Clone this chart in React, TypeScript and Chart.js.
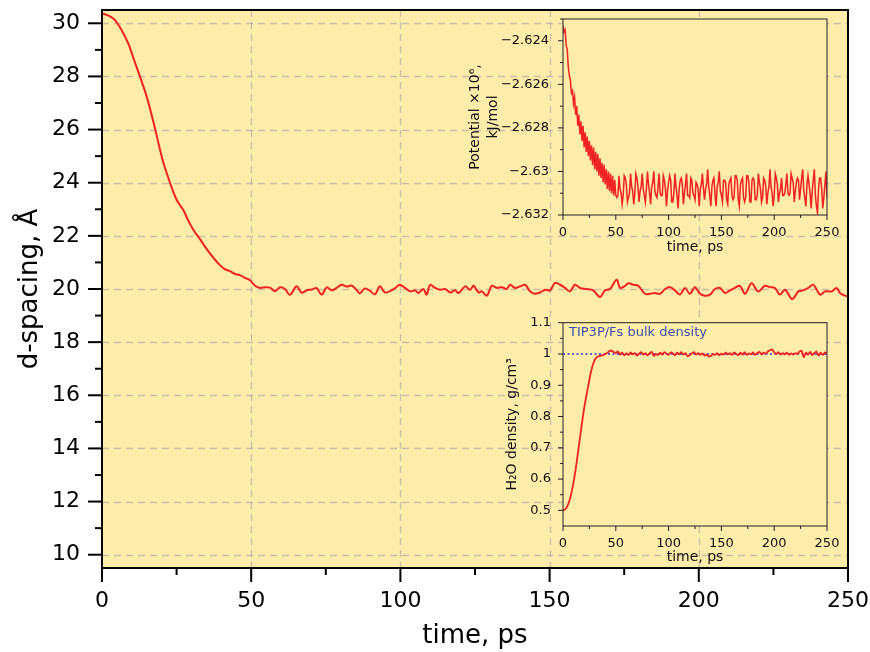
import React, { useEffect, useRef } from 'react';
import { Chart, registerables } from 'chart.js';

Chart.register(...registerables);

// ---------------- DATA ----------------
const dTime = [0, 2, 3.8, 5, 6.6, 8.8, 10.5, 12.7, 15, 17.2, 19, 20.5, 22.8, 25, 27.2, 28.8, 30.6, 33, 35.1, 37.5,
  39.5, 41, 42.9, 44.5, 46.2, 47.9, 49.6, 51.3, 53, 54.6, 56.3, 58, 59.6, 61.3, 63, 65.2, 66.9, 68.6, 70.3, 71.9,
  73.6, 75.3, 77, 78.6, 80.3, 82, 83.6, 85.3, 86.4, 88.1, 89.8, 91.5, 93.1, 94.8, 96.5, 98.2, 99.8, 101.5, 103.3, 104.9,
  106, 107.7, 108.8, 110, 111.6, 113.3, 115, 116.7, 118.3, 119.5, 121.7, 123.4, 124.5, 126.2, 127.3, 129, 130.6, 132.3, 134, 135.6,
  136.8, 138.4, 140.1, 141.8, 143.5, 145.1, 146.8, 148.5, 150.2, 151.8, 153.5, 155.2, 156.8, 158.5, 160.2, 162.4, 164.6, 166.9, 168.6, 170.2,
  172.5, 173.6, 175.3, 176.4, 178.1, 179.7, 182, 183.7, 185.3, 187, 188.7, 190.4, 192, 193.7, 195.4, 197, 198.7, 200.4, 202, 203.8,
  205.4, 207.1, 208.8, 210.5, 212.1, 213.8, 215.5, 217.7, 219.9, 222.2, 223.8, 225.5, 227.2, 228.9, 231.3, 233.4, 235, 236.7, 238.4, 240.6,
  242.3, 244.5, 246.2, 247.3, 249, 250];
const dSpacing = [30.37, 30.3, 30.18, 30.02, 29.74, 29.24, 28.7, 28.0, 27.23, 26.3, 25.45, 24.78, 24.0, 23.36, 22.98, 22.6, 22.23, 21.85, 21.5, 21.15,
  20.9, 20.76, 20.67, 20.57, 20.52, 20.42, 20.33, 20.12, 20.04, 20.07, 20.05, 19.92, 20.06, 20.0, 19.78, 20.1, 19.86, 19.95, 19.98, 20.03,
  19.79, 20.06, 19.95, 20.04, 20.16, 20.09, 20.13, 19.97, 19.84, 20.02, 19.93, 19.8, 20.1, 19.87, 19.92, 20.03, 20.16, 20.04, 19.91, 19.95,
  19.85, 20.0, 19.79, 20.16, 20.04, 19.97, 20.0, 19.87, 19.95, 19.85, 20.1, 19.97, 20.12, 19.87, 19.91, 19.75, 20.12, 20.04, 20.07, 20.0,
  20.16, 20.04, 20.1, 20.16, 19.91, 19.82, 19.87, 19.97, 19.95, 20.23, 20.16, 20.04, 19.91, 20.16, 20.04, 20.0, 19.95, 19.7, 19.95, 20.0,
  20.35, 20.04, 20.12, 20.22, 20.16, 20.12, 19.82, 19.82, 19.85, 19.82, 20.0, 20.07, 19.95, 19.79, 20.04, 19.82, 20.07, 19.82, 19.75, 19.79,
  20.0, 20.04, 19.85, 19.95, 20.04, 20.12, 19.82, 20.22, 19.91, 20.12, 20.07, 20.04, 19.79, 19.97, 19.62, 19.91, 19.95, 20.04, 20.16, 19.79,
  19.91, 19.91, 20.04, 19.85, 19.75, 19.72];

const mainXTicks = [0, 50, 100, 150, 200, 250];
const mainXMinor = [25, 75, 125, 175, 225];
const mainYTicks = [10, 12, 14, 16, 18, 20, 22, 24, 26, 28, 30];
const mainYMinor = [11, 13, 15, 17, 19, 21, 23, 25, 27, 29];

// Potential (x10^6 kJ/mol), one sample per ps, t = 0..250
const POT_DT = 1;
const potential = [
  -2.6233, -2.6236, -2.6235, -2.6242, -2.6244, -2.6252, -2.6256, -2.6258, -2.6264, -2.6263,
  -2.6269, -2.6266, -2.6274, -2.6270, -2.6279, -2.6274, -2.6283, -2.6277, -2.6286, -2.6279,
  -2.6289, -2.6282, -2.6291, -2.6284, -2.6293, -2.6286, -2.6295, -2.6288, -2.6297, -2.6289,
  -2.6299, -2.6291, -2.6300, -2.6292, -2.6302, -2.6294, -2.6303, -2.6296, -2.6305, -2.6297,
  -2.6306, -2.6299, -2.6308, -2.6300, -2.6309, -2.6301, -2.6310, -2.6302, -2.6311, -2.6304,
  -2.6311,
  -2.6312, -2.6311, -2.6302, -2.6308, -2.6310, -2.6315, -2.6311, -2.6302, -2.6303, -2.6306,
  -2.6314, -2.6312, -2.6310, -2.6301, -2.6307, -2.6309, -2.6315, -2.6310, -2.6301, -2.6303,
  -2.6307, -2.6314, -2.6309, -2.6307, -2.6301, -2.6308, -2.6311, -2.6314, -2.6308, -2.6300,
  -2.6306, -2.6310, -2.6315, -2.6307, -2.6305, -2.6300, -2.6309, -2.6311, -2.6312, -2.6307,
  -2.6301, -2.6310, -2.6311, -2.6311, -2.6302, -2.6304, -2.6308, -2.6316, -2.6309, -2.6305,
  -2.6302, -2.6304, -2.6314, -2.6314, -2.6310, -2.6301, -2.6307, -2.6311, -2.6317, -2.6308,
  -2.6304, -2.6303, -2.6306, -2.6315, -2.6310, -2.6306, -2.6301, -2.6311, -2.6311, -2.6312,
  -2.6303, -2.6304, -2.6310, -2.6311, -2.6313, -2.6305, -2.6306, -2.6308, -2.6316, -2.6308,
  -2.6306, -2.6301, -2.6308, -2.6313, -2.6308, -2.6306, -2.6299, -2.6307, -2.6311, -2.6316,
  -2.6307, -2.6304, -2.6303, -2.6311, -2.6316, -2.6307, -2.6305, -2.6300, -2.6309, -2.6311,
  -2.6314, -2.6304, -2.6304, -2.6305, -2.6313, -2.6315, -2.6306, -2.6304, -2.6303, -2.6311,
  -2.6313, -2.6312, -2.6302, -2.6302, -2.6304, -2.6313, -2.6316, -2.6306, -2.6304, -2.6303,
  -2.6312, -2.6314, -2.6312, -2.6302, -2.6302, -2.6305, -2.6314, -2.6314, -2.6304, -2.6303,
  -2.6304, -2.6313, -2.6313, -2.6311, -2.6301, -2.6305, -2.6308, -2.6314, -2.6312, -2.6303,
  -2.6304, -2.6307, -2.6315, -2.6310, -2.6307, -2.6299, -2.6307, -2.6310, -2.6316, -2.6311,
  -2.6301, -2.6303, -2.6306, -2.6314, -2.6310, -2.6308, -2.6303, -2.6311, -2.6311, -2.6310,
  -2.6306, -2.6301, -2.6310, -2.6311, -2.6310, -2.6301, -2.6303, -2.6305, -2.6314, -2.6309,
  -2.6305, -2.6303, -2.6304, -2.6313, -2.6308, -2.6303, -2.6299, -2.6309, -2.6312, -2.6316,
  -2.6306, -2.6302, -2.6306, -2.6310, -2.6317, -2.6309, -2.6304, -2.6299, -2.6311, -2.6316,
  -2.6319, -2.6308, -2.6303, -2.6303, -2.6308, -2.6317, -2.6312, -2.6306, -2.6300, -2.6312,
];
const potYTicks = [-2.632, -2.63, -2.628, -2.626, -2.624];
const potYMinor = [-2.631, -2.629, -2.627, -2.625, -2.623];
const insetXTicks = [0, 50, 100, 150, 200, 250];
const insetXMinor = [25, 75, 125, 175, 225];

// H2O density (g/cm3), one sample per 2 ps, t = 0..250
const DENS_DT = 2;
const density = [
  0.500, 0.503, 0.513, 0.530, 0.556, 0.590, 0.632, 0.680, 0.730, 0.780,
  0.826, 0.864, 0.900, 0.935, 0.962, 0.980, 0.990, 0.993, 0.995, 0.996,
  1.000, 1.004, 1.009, 1.011, 1.006, 1.003, 1.008, 0.998, 1.004, 0.996,
  1.002, 0.997, 1.005, 0.999, 1.003, 0.995, 1.001, 1.006, 0.998, 1.003,
  0.996, 1.002, 1.007, 0.994, 1.000, 0.997, 1.004, 0.998, 1.006, 1.001,
  0.997, 1.005, 1.002, 0.996, 1.004, 0.999, 1.006, 0.998, 1.003, 0.993,
  0.996, 1.002, 1.006, 0.998, 1.003, 0.997, 1.002, 0.995, 0.999, 0.992,
  0.994, 1.000, 0.997, 1.003, 0.996, 1.001, 0.998, 1.004, 0.999, 1.003,
  0.997, 1.005, 1.000, 0.996, 1.004, 0.998, 1.006, 0.997, 1.002, 0.999,
  1.005, 0.997, 1.003, 1.007, 0.999, 1.004, 1.001, 1.008, 1.012, 1.015,
  1.005, 1.000, 1.006, 0.998, 1.003, 0.999, 1.004, 0.997, 1.002, 0.998,
  1.003, 1.000, 1.008, 1.010, 0.990, 1.004, 0.998, 1.007, 0.996, 1.003,
  1.008, 0.995, 1.004, 0.997, 1.005, 1.000,
];
const bulkDensity = 1.0;
const densYTicks = [0.5, 0.6, 0.7, 0.8, 0.9, 1.0, 1.1];
const densYMinor = [0.55, 0.65, 0.75, 0.85, 0.95, 1.05];

// ---------------- STYLE ----------------
const BG = '#FEECAA';
const RED = '#EE2222';
const FONT = "'DejaVu Sans', 'Liberation Sans', sans-serif";

type Deco = {
  xMajor: number[]; xMinor: number[]; yMajor: number[]; yMinor: number[];
  majorLen: number; minorLen: number; tickWidth: number;
  frameWidth: number; frameColor: string;
  gridX?: number[]; gridY?: number[];
  note?: { text: string; color: string; font: string; dx: number; dy: number };
};

function decoPlugin(d: Deco) {
  return {
    id: 'deco',
    beforeDraw(chart: any) {
      const { ctx, chartArea: a, scales } = chart;
      ctx.save();
      ctx.fillStyle = BG;
      ctx.fillRect(a.left, a.top, a.right - a.left, a.bottom - a.top);
      ctx.strokeStyle = 'rgba(150,150,160,0.5)';
      ctx.lineWidth = 1.3;
      ctx.setLineDash([7, 5]);
      (d.gridX || []).forEach((v) => {
        const x = Math.round(scales.x.getPixelForValue(v)) + 0.5;
        ctx.beginPath(); ctx.moveTo(x, a.top); ctx.lineTo(x, a.bottom); ctx.stroke();
      });
      (d.gridY || []).forEach((v) => {
        const y = Math.round(scales.y.getPixelForValue(v)) + 0.5;
        ctx.beginPath(); ctx.moveTo(a.left, y); ctx.lineTo(a.right, y); ctx.stroke();
      });
      ctx.restore();
    },
    afterDraw(chart: any) {
      const { ctx, chartArea: a, scales } = chart;
      ctx.save();
      ctx.strokeStyle = d.frameColor;
      ctx.lineWidth = d.tickWidth;
      const tick = (x1: number, y1: number, x2: number, y2: number) => {
        ctx.beginPath(); ctx.moveTo(x1, y1); ctx.lineTo(x2, y2); ctx.stroke();
      };
      d.xMajor.forEach((v) => { const x = scales.x.getPixelForValue(v); tick(x, a.bottom, x, a.bottom + d.majorLen); });
      d.xMinor.forEach((v) => { const x = scales.x.getPixelForValue(v); tick(x, a.bottom, x, a.bottom + d.minorLen); });
      d.yMajor.forEach((v) => { const y = scales.y.getPixelForValue(v); tick(a.left, y, a.left - d.majorLen, y); });
      d.yMinor.forEach((v) => {
        const y = scales.y.getPixelForValue(v);
        if (y >= a.top - 0.5 && y <= a.bottom + 0.5) tick(a.left, y, a.left - d.minorLen, y);
      });
      ctx.lineWidth = d.frameWidth;
      ctx.strokeRect(a.left, a.top, a.right - a.left, a.bottom - a.top);
      if (d.note) {
        ctx.fillStyle = d.note.color;
        ctx.font = d.note.font;
        ctx.textAlign = 'left';
        ctx.textBaseline = 'middle';
        ctx.fillText(d.note.text, a.left + d.note.dx, a.top + d.note.dy);
      }
      ctx.restore();
    },
  };
}

const zeroPad = (s: any) => { s.paddingLeft = 0; s.paddingRight = 0; s.paddingTop = 0; s.paddingBottom = 0; };
const setTicks = (vals: number[]) => (s: any) => { s.ticks = vals.map((v) => ({ value: v })); };

function fmtPot(v: number) {
  return String(Number(v.toFixed(3))).replace('-', '\u2212');
}
function fmtDens(v: number) {
  return String(Number(v.toFixed(1)));
}

function MainChart() {
  const ref = useRef<HTMLCanvasElement>(null);
  useEffect(() => {
    const chart = new Chart(ref.current!, {
      type: 'line',
      data: {
        datasets: [{
          data: dTime.map((t, i) => ({ x: t, y: dSpacing[i] })),
          borderColor: RED, borderWidth: 2, pointRadius: 0, tension: 0.35, fill: false,
        }],
      },
      options: {
        animation: false, responsive: false, maintainAspectRatio: false,
        events: [],
        layout: { padding: { top: 10, right: 22, bottom: 0, left: 0 } },
        plugins: { legend: { display: false }, tooltip: { enabled: false } },
        scales: {
          x: {
            type: 'linear', min: 0, max: 250,
            afterBuildTicks: setTicks(mainXTicks),
            afterFit: (s: any) => { s.height = 84; zeroPad(s); },
            grid: { display: false, drawTicks: false },
            border: { display: false },
            ticks: { color: '#000', padding: 20, font: { family: FONT, size: 22 }, maxRotation: 0, callback: (v: any) => String(v) },
            title: { display: true, text: 'time, ps', color: '#000', font: { family: FONT, size: 26 }, padding: { top: 0, bottom: 0 } },
          },
          y: {
            type: 'linear', min: 9.5, max: 30.5,
            afterBuildTicks: setTicks(mainYTicks),
            afterFit: (s: any) => { s.width = 102; zeroPad(s); },
            grid: { display: false, drawTicks: false },
            border: { display: false },
            ticks: { color: '#000', padding: 22, font: { family: FONT, size: 22 }, callback: (v: any) => String(v) },
            title: { display: true, text: 'd-spacing, Å', color: '#000', font: { family: FONT, size: 26 }, padding: { top: 15, bottom: 15 } },
          },
        },
      },
      plugins: [decoPlugin({
        xMajor: mainXTicks, xMinor: mainXMinor, yMajor: mainYTicks, yMinor: mainYMinor,
        majorLen: 14, minorLen: 7, tickWidth: 2, frameWidth: 2, frameColor: '#000',
        gridX: [50, 100, 150, 200], gridY: mainYTicks,
      })],
    } as any);
    return () => chart.destroy();
  }, []);
  return <canvas ref={ref} width={870} height={652} style={{ position: 'absolute', left: 0, top: 0 }} />;
}

function PotentialInset() {
  const ref = useRef<HTMLCanvasElement>(null);
  useEffect(() => {
    const chart = new Chart(ref.current!, {
      type: 'line',
      data: {
        datasets: [{
          data: potential.map((v, i) => ({ x: i * POT_DT, y: v })),
          borderColor: RED, borderWidth: 1.5, pointRadius: 0, tension: 0, fill: false,
        }],
      },
      options: {
        animation: false, responsive: false, maintainAspectRatio: false,
        events: [],
        layout: { padding: { top: 14, right: 28, bottom: 0, left: 0 } },
        plugins: { legend: { display: false }, tooltip: { enabled: false } },
        scales: {
          x: {
            type: 'linear', min: 0, max: 250,
            afterBuildTicks: setTicks(insetXTicks),
            afterFit: (s: any) => { s.height = 45; zeroPad(s); },
            grid: { display: false, drawTicks: false },
            border: { display: false },
            ticks: { color: '#111', padding: 10, font: { family: FONT, size: 13 }, maxRotation: 0, callback: (v: any) => String(v) },
            title: { display: true, text: 'time, ps', color: '#111', font: { family: FONT, size: 14 }, padding: { top: 0, bottom: 4.5 } },
          },
          y: {
            type: 'linear', min: -2.632, max: -2.623,
            afterBuildTicks: setTicks(potYTicks),
            afterFit: (s: any) => { s.width = 108; zeroPad(s); },
            grid: { display: false, drawTicks: false },
            border: { display: false },
            ticks: { color: '#111', padding: 14, font: { family: FONT, size: 13 }, callback: (v: any) => fmtPot(v) },
            title: { display: true, text: ['Potential \u00d710\u2076,', 'kJ/mol'], color: '#111', font: { family: FONT, size: 14, lineHeight: 1.3 }, padding: { top: 11, bottom: 11 } },
          },
        },
      },
      plugins: [decoPlugin({
        xMajor: insetXTicks, xMinor: insetXMinor, yMajor: potYTicks, yMinor: potYMinor,
        majorLen: 5, minorLen: 3, tickWidth: 1, frameWidth: 1, frameColor: '#222',
      })],
    } as any);
    return () => chart.destroy();
  }, []);
  return <canvas ref={ref} width={400} height={255} style={{ position: 'absolute', left: 455, top: 5 }} />;
}

function DensityInset() {
  const ref = useRef<HTMLCanvasElement>(null);
  useEffect(() => {
    const chart = new Chart(ref.current!, {
      type: 'line',
      data: {
        datasets: [
          {
            data: density.map((v, i) => ({ x: i * DENS_DT, y: v })),
            borderColor: RED, borderWidth: 1.8, pointRadius: 0, tension: 0.2, fill: false, order: 0,
          },
          {
            data: [{ x: 0, y: bulkDensity }, { x: 250, y: bulkDensity }],
            borderColor: '#2233CC', borderWidth: 1.5, borderDash: [2, 2.5], pointRadius: 0, fill: false, order: 1,
          },
        ],
      },
      options: {
        animation: false, responsive: false, maintainAspectRatio: false,
        events: [],
        layout: { padding: { top: 12.7, right: 28, bottom: 0, left: 0 } },
        plugins: { legend: { display: false }, tooltip: { enabled: false } },
        scales: {
          x: {
            type: 'linear', min: 0, max: 250,
            afterBuildTicks: setTicks(insetXTicks),
            afterFit: (s: any) => { s.height = 46; zeroPad(s); },
            grid: { display: false, drawTicks: false },
            border: { display: false },
            ticks: { color: '#111', padding: 10, font: { family: FONT, size: 13 }, maxRotation: 0, callback: (v: any) => String(v) },
            title: { display: true, text: 'time, ps', color: '#111', font: { family: FONT, size: 14 }, padding: { top: 0, bottom: 6.5 } },
          },
          y: {
            type: 'linear', min: 0.45, max: 1.1,
            afterBuildTicks: setTicks(densYTicks),
            afterFit: (s: any) => { s.width = 108; zeroPad(s); },
            grid: { display: false, drawTicks: false },
            border: { display: false },
            ticks: { color: '#111', padding: 12, font: { family: FONT, size: 13 }, callback: (v: any) => fmtDens(v) },
            title: { display: true, text: 'H\u2082O density, g/cm\u00b3', color: '#111', font: { family: FONT, size: 14 }, padding: { top: 49, bottom: 49 } },
          },
        },
      },
      plugins: [decoPlugin({
        xMajor: insetXTicks, xMinor: insetXMinor, yMajor: densYTicks, yMinor: densYMinor,
        majorLen: 5, minorLen: 3, tickWidth: 1, frameWidth: 1, frameColor: '#222',
        note: { text: 'TIP3P/Fs bulk density', color: '#3A4FA8', font: `13px ${FONT}`, dx: 6, dy: 9.5 },
      })],
    } as any);
    return () => chart.destroy();
  }, []);
  return <canvas ref={ref} width={400} height={262} style={{ position: 'absolute', left: 455, top: 310 }} />;
}

export default function App() {
  return (
    <div style={{ position: 'absolute', left: 0, top: 0, width: 870, height: 652, background: '#fff' }}>
      <MainChart />
      <PotentialInset />
      <DensityInset />
    </div>
  );
}
